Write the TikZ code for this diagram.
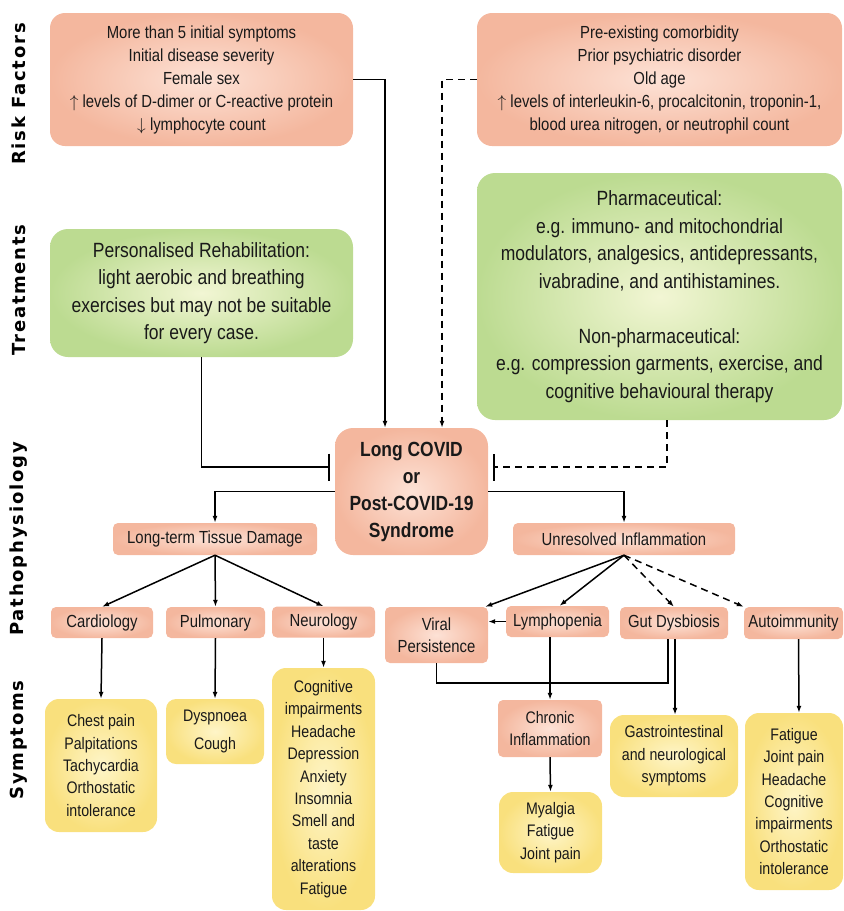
\documentclass[tikz,border=0pt]{standalone}
\usepackage{fontspec}
\setmainfont{Liberation Sans}[FakeStretch=0.85]
\newfontfamily\rowfont{DejaVu Sans}[LetterSpace=10]
\usetikzlibrary{arrows.meta}
\definecolor{pinkout}{RGB}{244,183,158}
\definecolor{pinkin}{RGB}{253,226,214}
\definecolor{greenout}{RGB}{188,219,145}
\definecolor{greenin}{RGB}{242,246,212}
\definecolor{yellowout}{RGB}{249,224,125}
\definecolor{yellowin}{RGB}{254,245,200}
\tikzset{
  box/.style={align=center, inner sep=0pt, text=black!90},
  dims/.style 2 args={minimum width=#1, minimum height=#2},
  pinkbox/.style={box, rounded corners=15pt, inner color=pinkin, outer color=pinkout},
  greenbox/.style={box, rounded corners=18pt, inner color=greenin, outer color=greenout},
  yellowbox/.style={box, rounded corners=14pt, inner color=yellowin, outer color=yellowout},
  tagbox/.style={box, rounded corners=5pt, inner color=pinkin, outer color=pinkout},
  rowlabel/.style={rotate=90, font=\rowfont\bfseries\fontsize{18}{20}\selectfont},
  rftext/.style={font=\fontsize{17.5}{23}\selectfont},
  trtext/.style={font=\fontsize{20.6}{27.5}\selectfont},
  lctext/.style={font=\fontsize{20.5}{27}\selectfont\bfseries},
  tagtext/.style={font=\fontsize{17.5}{22}\selectfont},
  symtext/.style={font=\fontsize{16.7}{22.4}\selectfont},
  link/.style={line width=1.5pt, -{Latex[length=7pt,width=5pt]}},
  block/.style={-{Bar[width=27pt]}},
  dashlink/.style={dash pattern=on 7pt off 5pt}
}
\begin{document}
\begin{tikzpicture}[x=1pt,y=-1pt]
  \useasboundingbox (0,0) rectangle (844,911);
  \draw
    (19,94) node[rowlabel] (rowrf){Risk Factors}
    (19,290) node[rowlabel] (rowtr){Treatments}
    (19,539) node[rowlabel] (rowpp){Pathophysiology}
    (19,740) node[rowlabel] (rowsy){Symptoms};
  \draw
    (201.5,79.5) node[pinkbox,rftext,dims={303pt}{133pt}] (rf1){More than 5 initial symptoms\\Initial disease severity\\Female sex\\$\uparrow$ levels of D-dimer or C-reactive protein\\$\downarrow$ lymphocyte count}
    (659.5,79.5) node[pinkbox,rftext,dims={365pt}{133pt}] (rf2){Pre-existing comorbidity\\Prior psychiatric disorder\\Old age\\$\uparrow$ levels of interleukin-6, procalcitonin, troponin-1,\\blood urea nitrogen, or neutrophil count}
    (201.5,293) node[greenbox,trtext,dims={303pt}{128pt}] (tr1){Personalised Rehabilitation:\\light aerobic and breathing\\exercises but may not be suitable\\for every case.}
    (659.5,296.5) node[greenbox,trtext,dims={365pt}{247pt}] (tr2){Pharmaceutical:\\e.g. immuno- and mitochondrial\\modulators, analgesics, antidepressants,\\ivabradine, and antihistamines.\\[27.5pt]Non-pharmaceutical:\\e.g. compression garments, exercise, and\\cognitive behavioural therapy}
    (411.5,491.5) node[pinkbox,rounded corners=18pt,lctext,dims={153pt}{127pt}] (lc){Long COVID\\or\\Post-COVID-19\\Syndrome}
    (215,539) node[tagbox,tagtext,dims={204pt}{32pt}] (ltd){Long-term Tissue Damage}
    (624,539) node[tagbox,tagtext,dims={222pt}{32pt}] (ui){Unresolved Inflammation}
    (102,622.5) node[tagbox,tagtext,dims={102pt}{31pt}] (card){Cardiology}
    (215.5,622.5) node[tagbox,tagtext,dims={99pt}{31pt}] (pulm){Pulmonary}
    (323.5,622) node[tagbox,tagtext,dims={103pt}{31pt}] (neur){Neurology}
    (436.5,635) node[tagbox,tagtext,dims={103pt}{56pt}] (vir){Viral\\Persistence}
    (557.5,621.5) node[tagbox,tagtext,dims={103pt}{31pt}] (lymph){Lymphopenia}
    (674,623) node[tagbox,tagtext,dims={108pt}{32pt}] (gut){Gut Dysbiosis}
    (793.5,623) node[tagbox,tagtext,dims={99pt}{32pt}] (auto){Autoimmunity}
    (550,728.5) node[tagbox,symtext,dims={104pt}{57pt}] (chron){Chronic\\Inflammation}
    (101,765.5) node[yellowbox,symtext,dims={112pt}{133pt}] (chest){Chest pain\\Palpitations\\Tachycardia\\Orthostatic\\intolerance}
    (215,731.5) node[yellowbox,rounded corners=10pt,font=\fontsize{16.7}{27.7}\selectfont,dims={98pt}{65pt}] (dysp){Dyspnoea\\Cough}
    (323.5,789) node[yellowbox,symtext,dims={103pt}{242pt}] (neursym){Cognitive\\impairments\\Headache\\Depression\\Anxiety\\Insomnia\\Smell and\\taste\\alterations\\Fatigue}
    (550.5,832.5) node[yellowbox,symtext,dims={103pt}{81pt}] (myal){Myalgia\\Fatigue\\Joint pain}
    (674,756) node[yellowbox,symtext,dims={128pt}{82pt}] (gastro){Gastrointestinal\\and neurological\\symptoms}
    (794,801.5) node[yellowbox,symtext,dims={98pt}{177pt}] (autosym){Fatigue\\Joint pain\\Headache\\Cognitive\\impairments\\Orthostatic\\intolerance};
  \begin{scope}[link]
    \draw (rf1.east) -| ([xshift=-26.5pt]lc.north);
    \draw[dashlink] (rf2.west) -| ([xshift=30.5pt]lc.north);
    \draw[block] (tr1.south) |- ([xshift=-5pt,yshift=24.5pt]lc.west);
    \draw[block,dashlink] ([xshift=7.5pt]tr2.south) |- ([xshift=5pt,yshift=24.5pt]lc.east);
    \draw (lc.west) -| (ltd.north);
    \draw (lc.east) -| (ui.north);
    \draw (ltd.south) to (card.north);
    \draw (ltd.south) to (pulm.north);
    \draw (ltd.south) to (neur.north);
    \draw (ui.south) to ([xshift=-3pt]vir.north east);
    \draw (ui.south) to ([xshift=2pt]lymph.north);
    \draw[dashlink] (ui.south) to (gut.north);
    \draw[dashlink] (ui.south) to (auto.north west);
    \draw (lymph.west) to (lymph.west -| vir.east);
    \draw (card.south) to (chest.north);
    \draw (pulm.south) to (dysp.north);
    \draw (neur.south) to (neursym.north);
    \draw[-] (vir.south) -- ++(0,20) -| ([xshift=-6pt]gut.south);
    \draw ([xshift=1pt]gut.south) to ([xshift=1pt]gastro.north);
    \draw (lymph.south -| chron.north) to (chron.north);
    \draw (chron.south) to (myal.north);
    \draw ([xshift=5pt]auto.south) to ([xshift=5pt]autosym.north);
  \end{scope}
\end{tikzpicture}
\end{document}
